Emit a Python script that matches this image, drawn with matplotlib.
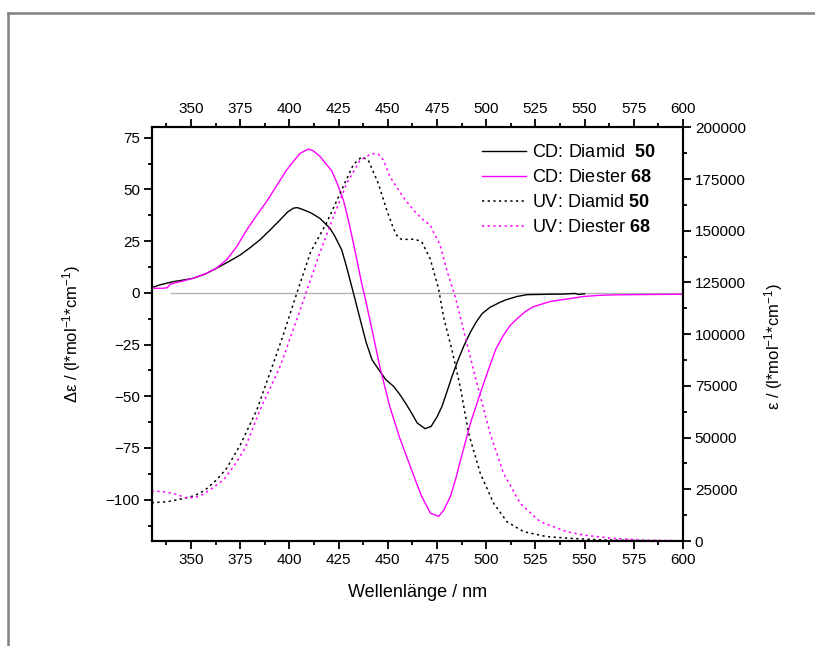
import matplotlib
matplotlib.use("Agg")
import matplotlib.pyplot as plt
from matplotlib.lines import Line2D
import numpy as np

plt.rcParams["font.family"] = ["Liberation Sans", "DejaVu Sans"]
plt.rcParams["mathtext.fontset"] = "custom"
plt.rcParams["mathtext.rm"] = "Liberation Sans"
plt.rcParams["mathtext.bf"] = "Liberation Sans:bold"
plt.rcParams["mathtext.default"] = "regular"

# CD: Diamid 50 (left axis)
cd_diamid_wl = [330, 334, 337.5, 341, 345, 351, 357, 363, 369, 375, 380, 385, 390, 395, 399,
                402, 404, 407, 411, 415.5, 420.6, 423, 426.6, 429, 432.5, 436, 439, 442, 446,
                449, 453, 456, 459, 462, 465, 469, 472, 475, 477.5, 480, 482.6, 485.5, 488.5,
                492, 495, 498, 502, 507, 510, 515.6, 520.7, 532.5, 540, 545, 547, 549.4, 550]
cd_diamid = [2.5, 3.8, 4.6, 5.4, 6.0, 7.0, 9.0, 11.9, 15.0, 18.3, 21.8, 25.6, 30.2, 35.0, 39.0,
             40.9, 41.2, 40.2, 38.6, 36.0, 31.2, 27.5, 20.7, 12.7, 0.0, -13.0, -24.0, -32.4, -38.0,
             -42.0, -45.3, -49.0, -53.3, -58.0, -63.0, -65.7, -64.6, -60.0, -55.0, -48.0, -40.5, -33.0, -26.0,
             -19.0, -14.0, -10.0, -7.0, -4.6, -3.4, -1.8, -0.9, -0.7, -0.6, -0.3, -0.8, -0.5, -0.5]

# CD: Diester 68 (left axis)
cd_diester_wl = [330, 336, 338, 339.5, 345, 351, 358, 363, 368, 373, 378.3, 383, 388.4, 393, 398.6,
                 402, 405.4, 409.6, 412, 415.5, 418, 421.5, 424, 427.4, 430, 432.5, 434.5, 436.7,
                 439.3, 442, 446, 451, 456, 459.5, 463, 467, 471.6, 475.8, 478.5, 481.8, 484.5, 487,
                 492, 497, 502, 505, 508.8, 512, 515.7, 520, 524, 532.5, 541, 549.4, 557.9, 565,
                 574.9, 585, 598.6, 600]
cd_diester = [2.2, 2.2, 2.5, 4.2, 5.5, 7.0, 9.5, 12.0, 15.9, 22.0, 30.4, 37.0, 44.1, 51.0, 59.4,
              63.5, 67.4, 69.5, 68.7, 66.0, 63.0, 59.0, 53.5, 44.9, 35.0, 24.0, 15.0, 4.6,
              -6.0, -18.0, -36.0, -55.0, -70.0, -79.0, -88.0, -98.0, -106.5, -108.1, -105.0, -98.4, -90.0, -80.7,
              -63.0, -48.5, -34.8, -27.0, -20.5, -16.0, -12.5, -9.0, -6.7, -4.2, -3.0, -1.8, -1.2, -1.0,
              -0.9, -0.8, -0.7, -0.7]

# UV: Diamid 50 (right axis)
uv_diamid_wl = [330, 338, 346, 352, 357, 363, 368, 375, 383.4, 391.8, 397, 403.7, 410.8, 419,
                425.7, 432.5, 436.7, 440.1, 445.2, 449.5, 452.9, 455, 457.1, 463.9, 467.3, 471.5,
                475.8, 478.3, 482.6, 486.8, 491.1, 497, 503.8, 510.6, 519, 530.9, 544.4, 560, 580, 600]
uv_diamid = [18500, 19000, 20500, 22000, 24500, 29600, 35000, 46400, 63300, 85800, 100000, 119700,
             139800, 154000, 168000, 182000, 185700, 184100, 172800, 159900, 151000, 147000, 145800,
             145900, 144600, 136500, 122000, 108400, 92300, 74600, 52000, 32700, 18200, 9300, 4500,
             2100, 1200, 500, 200, 0]

# UV: Diester 68 (right axis)
uv_diester_wl = [330, 335, 338, 343, 347, 352, 356, 360, 366.5, 372, 377.4, 385, 395.2, 405.4,
                 415.2, 422.3, 429.1, 435.9, 441.8, 445.2, 447.8, 451.2, 458, 463.1, 469, 471.5,
                 473.2, 476.6, 480, 484.3, 486.8, 490.2, 495.3, 502, 508.8, 517.3, 527.5, 541,
                 550, 565, 580, 600]
uv_diester = [24000, 24000, 23500, 22500, 21000, 21000, 22500, 25000, 29600, 36500, 44800, 63300,
              84200, 111600, 138600, 156700, 172800, 184100, 187300, 187000, 184100, 176000, 166000,
              159900, 154300, 153000, 149400, 143000, 130900, 118000, 108400, 95500, 76200, 52000,
              32700, 18200, 9300, 4500, 2800, 1200, 500, 100]

x_ticks = [350, 375, 400, 425, 450, 475, 500, 525, 550, 575, 600]
left_ticks = [-100, -75, -50, -25, 0, 25, 50, 75]
right_ticks = [0, 25000, 50000, 75000, 100000, 125000, 150000, 175000, 200000]

magenta = "#ff00ff"
dots = (0, (1.5, 2.2))


def style_axis(axis):
    for sp in axis.spines.values():
        sp.set_linewidth(1.5)
    axis.tick_params(which="major", direction="out", length=5.5, width=1.3, labelsize=11, pad=3)
    axis.tick_params(which="minor", direction="out", length=3, width=1.3)


def plot_all():
    fig = plt.figure(figsize=(8.15, 6.46), dpi=100)
    ax = fig.add_axes([0.1861, 0.1625, 0.6519, 0.6404])
    ax2 = ax.twinx()

    ax.axhline(0, xmin=0.037, xmax=1, color="#b4b4b4", linewidth=1.0)
    h1, = ax.plot(cd_diamid_wl, cd_diamid, color="black", linewidth=1.0,
                  label="CD: Diamid  $\\mathbf{50}$")
    h2, = ax.plot(cd_diester_wl, cd_diester, color=magenta, linewidth=1.0,
                  label="CD: Diester $\\mathbf{68}$")
    h3, = ax2.plot(uv_diamid_wl, uv_diamid, color="black", linewidth=1.1, linestyle=dots,
                   label="UV: Diamid $\\mathbf{50}$")
    h4, = ax2.plot(uv_diester_wl, uv_diester, color=magenta, linewidth=1.1, linestyle=dots,
                   label="UV: Diester $\\mathbf{68}$")

    ax.set_xlim(330, 600)
    ax.set_ylim(-120, 80)
    ax2.set_ylim(0, 200000)

    ax.set_xticks(x_ticks)
    ax.set_xticks(np.arange(337.5, 600, 12.5), minor=True)
    ax.set_yticks(left_ticks)
    ax.set_yticks(np.arange(-112.5, 80, 12.5), minor=True)
    ax2.set_yticks(right_ticks)
    ax2.set_yticks(np.arange(12500, 200000, 25000), minor=True)

    style_axis(ax)
    style_axis(ax2)
    ax.tick_params(which="both", top=True, labeltop=True)

    ax.set_xlabel("Wellenlänge / nm", fontsize=13)
    ax.xaxis.set_label_coords(0.5, -0.105)
    ax.set_ylabel("Δε / (l*mol$^{-1}$*cm$^{-1}$)", fontsize=12)
    ax.yaxis.set_label_coords(-0.13, 0.5)
    ax2.set_ylabel("ε / (l*mol$^{-1}$*cm$^{-1}$)", fontsize=12)
    ax2.yaxis.set_label_coords(1.149, 0.47)

    ax2.legend(handles=[h1, h2, h3, h4], loc="upper right", bbox_to_anchor=(0.975, 0.995),
               frameon=False, fontsize=13, handlelength=2.45, handletextpad=0.3,
               labelspacing=0.45, borderpad=0.3)

    # grey page frame
    fx = 8 / 815
    fy = 1 - 13 / 646
    fig.add_artist(Line2D([fx, fx], [0, fy], color="#808080", linewidth=1.8))
    fig.add_artist(Line2D([fx, 1], [fy, fy], color="#808080", linewidth=1.8))

    plt.savefig("out.png", dpi=100)


if __name__ == "__main__":
    plot_all()
